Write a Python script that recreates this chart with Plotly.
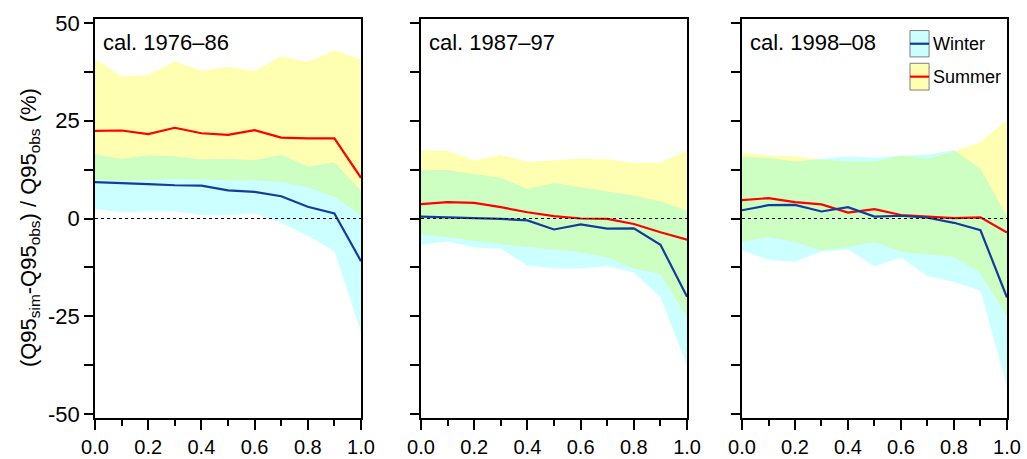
import plotly.graph_objects as go

# ---------------- data ----------------
x_frac = [0.0, 0.1, 0.2, 0.3, 0.4, 0.5, 0.6, 0.7, 0.8, 0.9, 1.0]
x_tick_vals = [0.0, 0.2, 0.4, 0.6, 0.8, 1.0]
x_tick_text = ["0.0", "0.2", "0.4", "0.6", "0.8", "1.0"]
y_tick_vals = [-50, -25, 0, 25, 50]
y_tick_text = ["-50", "-25", "0", "25", "50"]
panel_titles = ["cal. 1976\u201386", "cal. 1987\u201397", "cal. 1998\u201308"]

# panel 1
summer_up_1 = [40.8, 36.3, 36.7, 40.2, 37.8, 38.7, 37.7, 41.5, 40.0, 43.0, 40.7]
summer_mid_1 = [22.4, 22.5, 21.6, 23.2, 21.8, 21.4, 22.6, 20.7, 20.5, 20.5, 10.4]
summer_lo_1 = [9.9, 9.7, 9.9, 10.1, 9.9, 9.8, 9.8, 9.3, 8.0, 5.5, 0.8]
winter_up_1 = [16.5, 15.2, 16.2, 15.9, 15.1, 15.3, 14.9, 16.3, 13.3, 14.4, 7.0]
winter_mid_1 = [9.3, 9.1, 8.8, 8.5, 8.4, 7.2, 6.8, 5.7, 3.0, 1.3, -10.9]
winter_lo_1 = [2.4, 1.6, 1.8, 1.8, 0.9, 0.8, 1.3, -1.1, -4.5, -8.3, -29.0]

# panel 2
summer_up_2 = [17.4, 17.3, 14.8, 16.3, 14.5, 14.9, 15.3, 15.2, 14.2, 14.3, 17.4]
summer_mid_2 = [3.7, 4.2, 4.0, 2.9, 1.6, 0.6, 0.0, -0.1, -1.4, -3.5, -5.4]
summer_lo_2 = [-4.0, -4.8, -5.6, -6.5, -7.3, -8.0, -8.6, -10.0, -12.8, -14.2, -25.2]
winter_up_2 = [12.4, 12.4, 11.4, 10.4, 7.6, 9.1, 8.0, 6.9, 5.9, 4.4, 2.0]
winter_mid_2 = [0.5, 0.3, 0.2, -0.1, -0.5, -2.8, -1.5, -2.6, -2.5, -6.7, -20.0]
winter_lo_2 = [-6.7, -5.9, -7.4, -7.7, -12.0, -12.7, -12.8, -12.2, -13.8, -20.1, -37.7]

# panel 3
summer_up_3 = [16.9, 16.1, 15.9, 15.1, 14.6, 14.6, 16.1, 15.3, 17.2, 19.5, 25.3]
summer_mid_3 = [4.7, 5.2, 4.2, 3.6, 1.5, 2.4, 0.9, 0.5, 0.1, 0.3, -3.6]
summer_lo_3 = [-6.0, -4.7, -6.0, -8.1, -7.3, -6.0, -8.5, -9.2, -9.8, -14.0, -25.1]
winter_up_3 = [15.7, 15.5, 14.6, 15.2, 15.9, 15.5, 16.1, 16.3, 17.5, 12.7, 0.5]
winter_mid_3 = [2.1, 3.4, 3.5, 1.8, 2.9, 0.5, 0.7, 0.2, -1.1, -3.0, -20.2]
winter_lo_3 = [-8.1, -10.6, -11.0, -8.5, -7.9, -12.3, -10.0, -14.7, -16.2, -18.5, -43.0]

panels = [
    (summer_up_1, summer_mid_1, summer_lo_1, winter_up_1, winter_mid_1, winter_lo_1),
    (summer_up_2, summer_mid_2, summer_lo_2, winter_up_2, winter_mid_2, winter_lo_2),
    (summer_up_3, summer_mid_3, summer_lo_3, winter_up_3, winter_mid_3, winter_lo_3),
]

# ---------------- style ----------------
SUMMER_FILL = "rgba(255,255,0,0.30)"
WINTER_FILL = "rgba(0,255,255,0.20)"
SUMMER_LINE = "#FF0000"
WINTER_LINE = "#143C9C"
FONT = "Liberation Sans, Arial, sans-serif"

x_domains = [[0.0925, 0.3515], [0.4099, 0.6690], [0.7225, 0.9805]]
y_domain = [0.0893, 0.9586]

fig = go.Figure()

for i, (s_up, s_mid, s_lo, w_up, w_mid, w_lo) in enumerate(panels):
    xa = "x" if i == 0 else f"x{i+1}"
    ya = "y" if i == 0 else f"y{i+1}"
    common = dict(xaxis=xa, yaxis=ya, showlegend=False, hoverinfo="skip")
    fig.add_trace(go.Scatter(x=x_frac + x_frac[::-1], y=s_up + s_lo[::-1],
                             fill="toself", fillcolor=SUMMER_FILL, mode="lines",
                             line=dict(width=0), **common))
    fig.add_trace(go.Scatter(x=x_frac + x_frac[::-1], y=w_up + w_lo[::-1],
                             fill="toself", fillcolor=WINTER_FILL, mode="lines",
                             line=dict(width=0), **common))
    fig.add_trace(go.Scatter(x=x_frac, y=s_mid, mode="lines",
                             line=dict(color=SUMMER_LINE, width=2.2), **common))
    fig.add_trace(go.Scatter(x=x_frac, y=w_mid, mode="lines",
                             line=dict(color=WINTER_LINE, width=2.2), **common))

    xkey = "xaxis" if i == 0 else f"xaxis{i+1}"
    ykey = "yaxis" if i == 0 else f"yaxis{i+1}"
    fig.update_layout({
        xkey: dict(domain=x_domains[i], anchor=ya, range=[0, 1],
                   showgrid=False, zeroline=False, showline=True,
                   linecolor="black", linewidth=1.5, mirror=True,
                   ticks="outside", ticklen=10, tickwidth=1.5, tickcolor="black",
                   tickvals=x_tick_vals, ticktext=x_tick_text,
                   tickfont=dict(size=20, color="black", family=FONT),
                   minor=dict(tickvals=[0.1, 0.3, 0.5, 0.7, 0.9], ticks="outside",
                              ticklen=6, tickwidth=1.5, tickcolor="black"),
                   automargin=False, fixedrange=True),
        ykey: dict(domain=y_domain, anchor=xa, range=[-51, 51],
                   showgrid=False, zeroline=False, showline=True,
                   linecolor="black", linewidth=1.5, mirror=True,
                   ticks="outside", ticklen=9, tickwidth=1.5, tickcolor="black",
                   tickvals=y_tick_vals, ticktext=y_tick_text,
                   showticklabels=(i == 0),
                   tickfont=dict(size=22, color="black", family=FONT),
                   minor=dict(tickvals=[-37.5, -12.5, 12.5, 37.5], ticks="outside",
                              ticklen=9, tickwidth=1.5, tickcolor="black"),
                   automargin=False, fixedrange=True),
    })

    # dotted zero line
    fig.add_shape(type="line", xref=f"{xa} domain", yref=ya, x0=0, x1=1, y0=0, y1=0,
                  line=dict(color="black", width=1.2, dash="dot"), layer="above")

    # panel title
    fig.add_annotation(text=panel_titles[i], xref=f"{xa} domain", yref=f"{ya} domain",
                       x=0.022, y=0.942, xanchor="left", yanchor="middle",
                       showarrow=False, font=dict(size=22, color="black", family=FONT))

# legend (drawn in panel 3)
legend_items = [("Winter", WINTER_FILL, WINTER_LINE, 0.971, 0.905),
                ("Summer", SUMMER_FILL, SUMMER_LINE, 0.889, 0.822)]
for name, fcol, lcol, y1, y0 in legend_items:
    fig.add_shape(type="rect", xref="x3 domain", yref="y3 domain",
                  x0=0.634, x1=0.706, y0=y0, y1=y1, fillcolor=fcol,
                  line=dict(color="#7f7f7f", width=1), layer="above")
    ym = (y0 + y1) / 2
    fig.add_shape(type="line", xref="x3 domain", yref="y3 domain",
                  x0=0.634, x1=0.706, y0=ym, y1=ym,
                  line=dict(color=lcol, width=2.2), layer="above")
    fig.add_annotation(text=name, xref="x3 domain", yref="y3 domain",
                       x=0.712, y=ym, xanchor="left", yanchor="middle",
                       showarrow=False, font=dict(size=18, color="black", family=FONT))

# y axis title
fig.add_annotation(text="(Q95<sub>sim</sub>-Q95<sub>obs</sub>) / Q95<sub>obs</sub> (%)",
                   xref="paper", yref="paper", x=30 / 1027, y=0.503,
                   xanchor="center", yanchor="middle", textangle=-90,
                   showarrow=False, font=dict(size=22, color="black", family=FONT))

fig.update_layout(width=1027, height=459,
                  margin=dict(l=0, r=0, t=0, b=0),
                  paper_bgcolor="white", plot_bgcolor="white",
                  showlegend=False)

fig.write_html("out.html", config={"displayModeBar": False})
